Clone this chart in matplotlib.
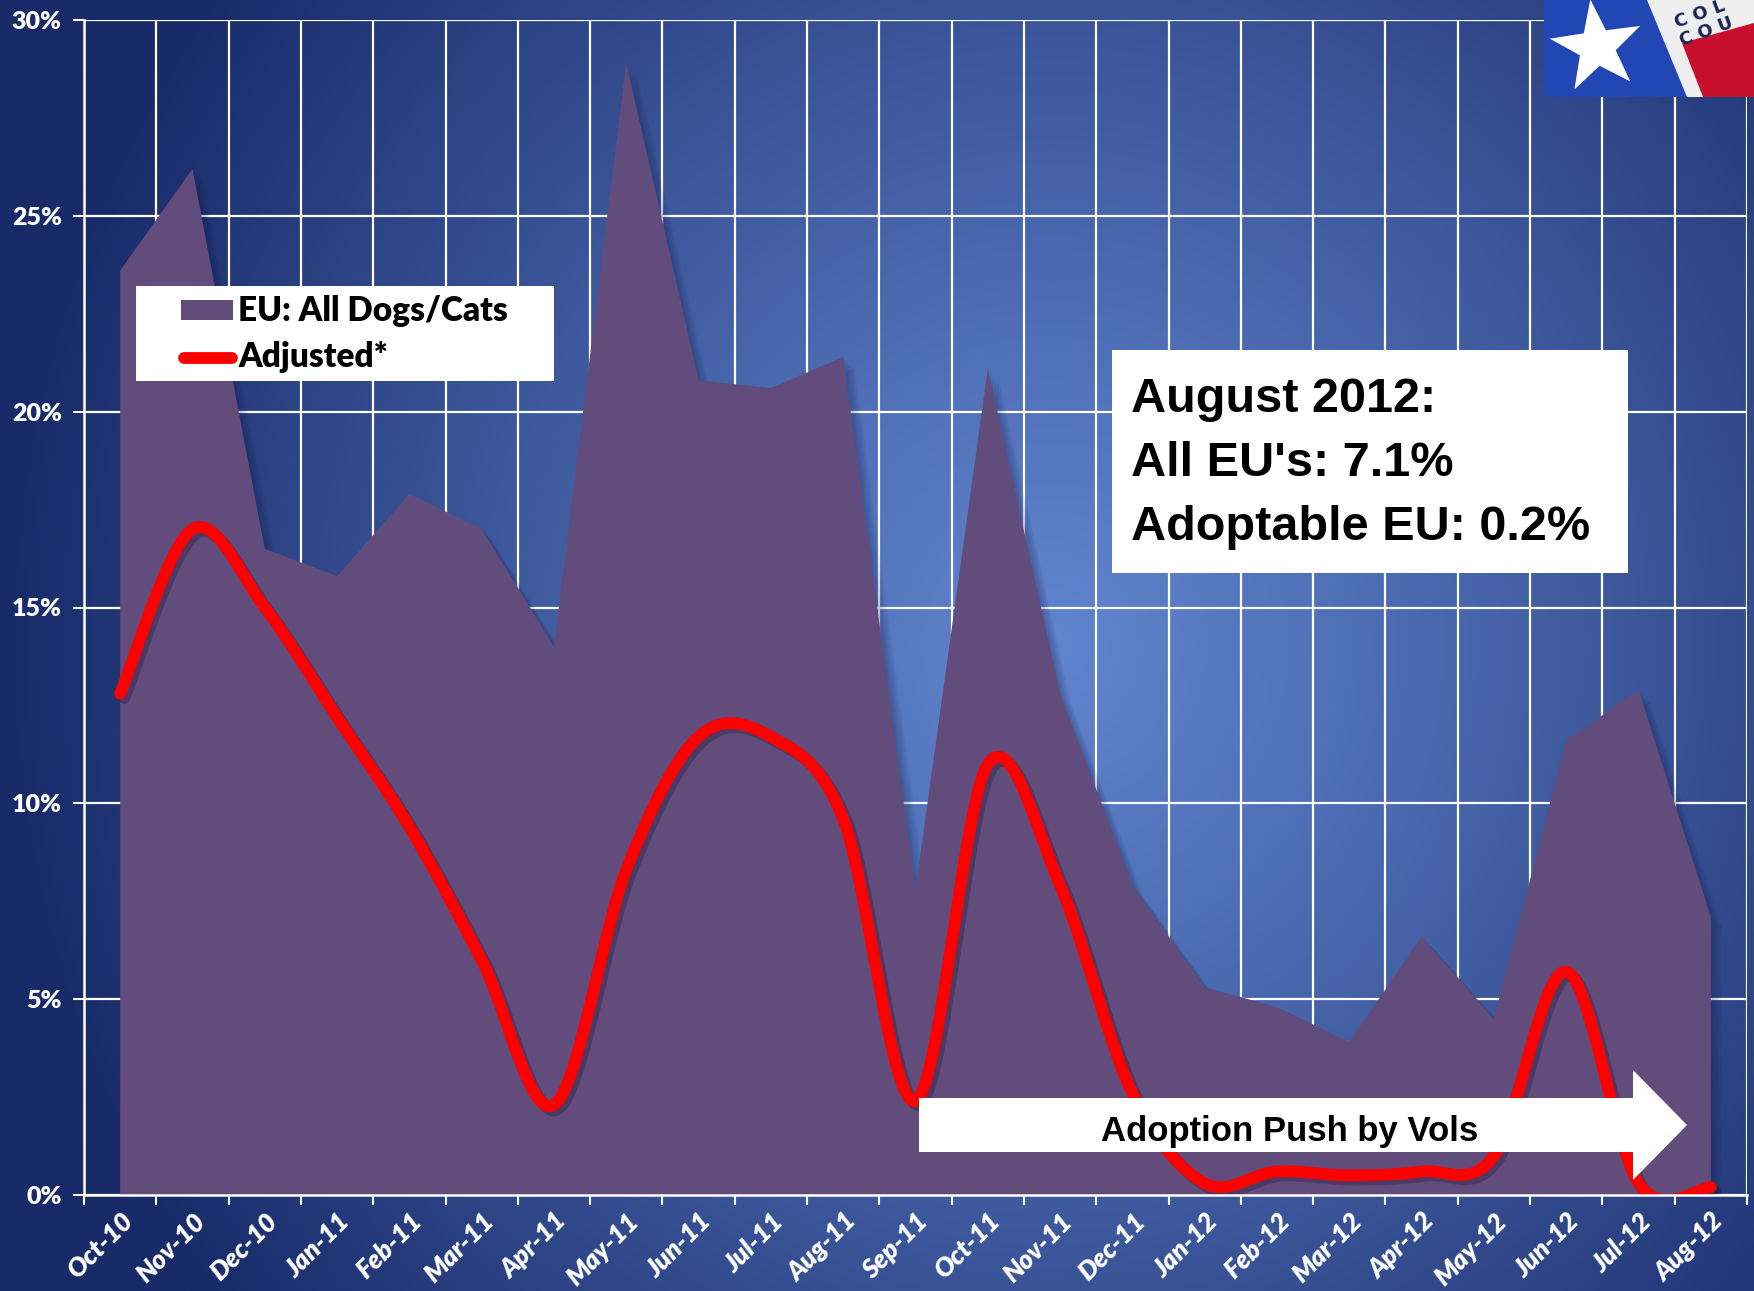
import numpy as np
import matplotlib
matplotlib.use("Agg")
import matplotlib.pyplot as plt
import matplotlib.patheffects as pe
from matplotlib.patches import Rectangle, Polygon

# months on the x axis
months = ['Oct-10', 'Nov-10', 'Dec-10', 'Jan-11', 'Feb-11', 'Mar-11', 'Apr-11',
          'May-11', 'Jun-11', 'Jul-11', 'Aug-11', 'Sep-11', 'Oct-11', 'Nov-11',
          'Dec-11', 'Jan-12', 'Feb-12', 'Mar-12', 'Apr-12', 'May-12', 'Jun-12',
          'Jul-12', 'Aug-12']

# EU: all dogs/cats (%)
eu_all = [23.6, 26.2, 16.5, 15.8, 17.9, 17.0, 14.0, 28.9, 20.8, 20.6, 21.4, 7.8,
          21.1, 12.8, 7.9, 5.3, 4.8, 3.9, 6.6, 4.5, 11.6, 12.9, 7.1]

# adjusted (%)
adjusted = [12.8, 17.0, 15.0, 12.2, 9.4, 6.0, 2.3, 8.3, 11.7, 11.7, 9.6, 2.4,
            11.0, 7.9, 2.6, 0.3, 0.6, 0.5, 0.6, 1.0, 5.7, 0.3, 0.2]

y_ticks = [0, 5, 10, 15, 20, 25, 30]

W, H = 1754, 1291
LABEL_FONT = 'Lato'


def fx(x):
    return x / W


def fy(y):
    return 1 - y / H


def smooth(xs, ys, n=30):
    # catmull-rom, like excel's smoothed line
    xs = np.asarray(xs, float)
    ys = np.asarray(ys, float)
    px = np.r_[xs[0], xs, xs[-1]]
    py = np.r_[ys[0], ys, ys[-1]]
    outx, outy = [], []
    t = np.linspace(0, 1, n)
    for i in range(1, len(xs)):
        for p, out in ((px, outx), (py, outy)):
            p0, p1, p2, p3 = p[i - 1], p[i], p[i + 1], p[i + 2]
            c = 0.5 * ((2 * p1) + (-p0 + p2) * t + (2 * p0 - 5 * p1 + 4 * p2 - p3) * t ** 2
                       + (-p0 + 3 * p1 - 3 * p2 + p3) * t ** 3)
            out.extend(c if i == 1 else c[1:])
    return np.array(outx), np.array(outy)


fig = plt.figure(figsize=(W / 100, H / 100), dpi=100)

# background gradient
bg = fig.add_axes([0, 0, 1, 1], zorder=0)
gx, gy = np.meshgrid(np.linspace(0, 1, 400), np.linspace(0, 1, 300))
d = np.sqrt(((gx - 0.6) / 0.6) ** 2 + ((gy - 0.5) / 0.85) ** 2)
d = np.clip(d, 0, 1) ** 1.15
inner = np.array([96, 132, 206]) / 255
outer = np.array([24, 42, 104]) / 255
img = inner[None, None, :] * (1 - d[..., None]) + outer[None, None, :] * d[..., None]
bg.imshow(img, extent=[0, 1, 0, 1], aspect='auto', origin='upper', interpolation='bilinear')
bg.set_axis_off()

ax = fig.add_axes([fx(84), fy(1195), fx(1747) - fx(84), fy(20) - fy(1195)], zorder=1)
ax.set_facecolor('none')

x = np.arange(len(months))
soft_shadow = [pe.SimplePatchShadow(offset=(o, -o), shadow_rgbFace='#0c1440', alpha=0.07)
               for o in (8, 6, 4, 2)] + [pe.Normal()]
ax.fill_between(x, eu_all, 0, color='#614c7b', zorder=3, linewidth=0, path_effects=soft_shadow)

sx, sy = smooth(x, adjusted)
ax.plot(sx, sy, color='#ff0000', lw=8.5, solid_capstyle='round', zorder=4,
        path_effects=[pe.SimpleLineShadow(offset=(3, -3), shadow_color='#1a1230', alpha=0.3),
                      pe.Normal()])

ax.set_xlim(-0.5, len(months) - 0.5)
ax.set_ylim(0, 30)

ax.set_xticks(x)
ax.set_xticklabels(months, rotation=45, ha='right', va='top', rotation_mode='anchor',
                   fontfamily=LABEL_FONT, fontweight='heavy', fontstyle='italic', fontsize=19, color='white')
ax.set_xticks(np.arange(-0.5, len(months)), minor=True)
ax.tick_params(axis='x', which='major', length=0, pad=10)
ax.tick_params(axis='x', which='minor', length=7, width=1.5, color='white', direction='out')

ax.set_yticks(y_ticks)
ax.set_yticklabels([f'{v}%' for v in y_ticks], fontfamily=LABEL_FONT, fontweight='heavy',
                   fontsize=18, color='white')
ax.tick_params(axis='y', length=8, width=1.5, color='white', pad=8)

ax.grid(which='major', axis='y', color='white', lw=1.6, zorder=1)
ax.grid(which='minor', axis='x', color='white', lw=1.6, zorder=1)
ax.set_axisbelow(True)
for s in ['top', 'right']:
    ax.spines[s].set_visible(False)
for s in ['left', 'bottom']:
    ax.spines[s].set_color('white')
    ax.spines[s].set_linewidth(1.8)
    ax.spines[s].set_zorder(5)

# legend box
fig.patches.append(Rectangle((fx(136), fy(381)), fx(554) - fx(136), fy(286) - fy(381),
                             transform=fig.transFigure, facecolor='white', edgecolor='none', zorder=10))
fig.patches.append(Rectangle((fx(181), fy(320)), fx(233) - fx(181), fy(300) - fy(320),
                             transform=fig.transFigure, facecolor='#614c7b', edgecolor='none', zorder=11))
fig.lines.append(plt.Line2D([fx(184), fx(232)], [fy(358), fy(358)], transform=fig.transFigure,
                            color='#ff0000', lw=8.5, solid_capstyle='round', zorder=11))
fig.text(fx(238), fy(311), 'EU: All Dogs/Cats', fontfamily=LABEL_FONT, fontweight='heavy', fontsize=24,
         color='black', va='center', ha='left', zorder=12)
fig.text(fx(238), fy(357), 'Adjusted*', fontfamily=LABEL_FONT, fontweight='heavy', fontsize=24,
         color='black', va='center', ha='left', zorder=12)

# August 2012 box
fig.patches.append(Rectangle((fx(1112), fy(573)), fx(1628) - fx(1112), fy(350) - fy(573),
                             transform=fig.transFigure, facecolor='white', edgecolor='none', zorder=10))
for i, line in enumerate(["August 2012:", "All EU's: 7.1%", "Adoptable EU: 0.2%"]):
    fig.text(fx(1131), fy(412 + 64 * i), line, fontfamily='Liberation Sans', fontweight='bold',
             fontsize=35, color='black', va='baseline', ha='left', zorder=12)

# arrow
arrow_px = [(919, 1098), (1633, 1098), (1633, 1070), (1687, 1125), (1633, 1180), (1633, 1152), (919, 1152)]
fig.patches.append(Polygon([(fx(a), fy(b)) for a, b in arrow_px], closed=True, transform=fig.transFigure,
                           facecolor='white', edgecolor='none', zorder=10))
fig.text(fx(1290), fy(1131), 'Adoption Push by Vols', fontfamily=['Liberation Sans Narrow', 'Liberation Sans'],
         fontweight='bold', fontsize=25, color='black', va='center', ha='center', zorder=12)

# logo in the corner
logo = Rectangle((fx(1544), fy(97)), fx(1754) - fx(1544), fy(0) - fy(97), transform=fig.transFigure,
                 facecolor='#2246b4', edgecolor='none', zorder=10)
fig.patches.append(logo)
band = [(1647, 0), (1754, 0), (1754, 97), (1687, 97)]
fig.patches.append(Polygon([(fx(a), fy(b)) for a, b in band], transform=fig.transFigure,
                           facecolor='#eeeeee', edgecolor='none', zorder=11))
red = [(1682, 43), (1754, 23), (1754, 97), (1703, 97)]
fig.patches.append(Polygon([(fx(a), fy(b)) for a, b in red], transform=fig.transFigure,
                           facecolor='#c8102e', edgecolor='none', zorder=12))
ang = np.deg2rad(90 + 8) + np.arange(10) * np.pi / 5
rad = np.where(np.arange(10) % 2 == 0, 48, 19)
star = [(fx(1597 + r * np.cos(a)), fy(47 - r * np.sin(a))) for a, r in zip(ang, rad)]
fig.patches.append(Polygon(star, transform=fig.transFigure, facecolor='white', edgecolor='none', zorder=12))
for txt, (a, b) in [('C O L', (1700, 14)), ('C O U', (1706, 32))]:
    t = fig.text(fx(a), fy(b), txt, fontfamily='DejaVu Sans', fontweight='bold', fontsize=13,
                 color='#1a2250', rotation=20, ha='center', va='center', zorder=13)
    t.set_clip_path(logo)

fig.savefig('out.png', dpi=100)
